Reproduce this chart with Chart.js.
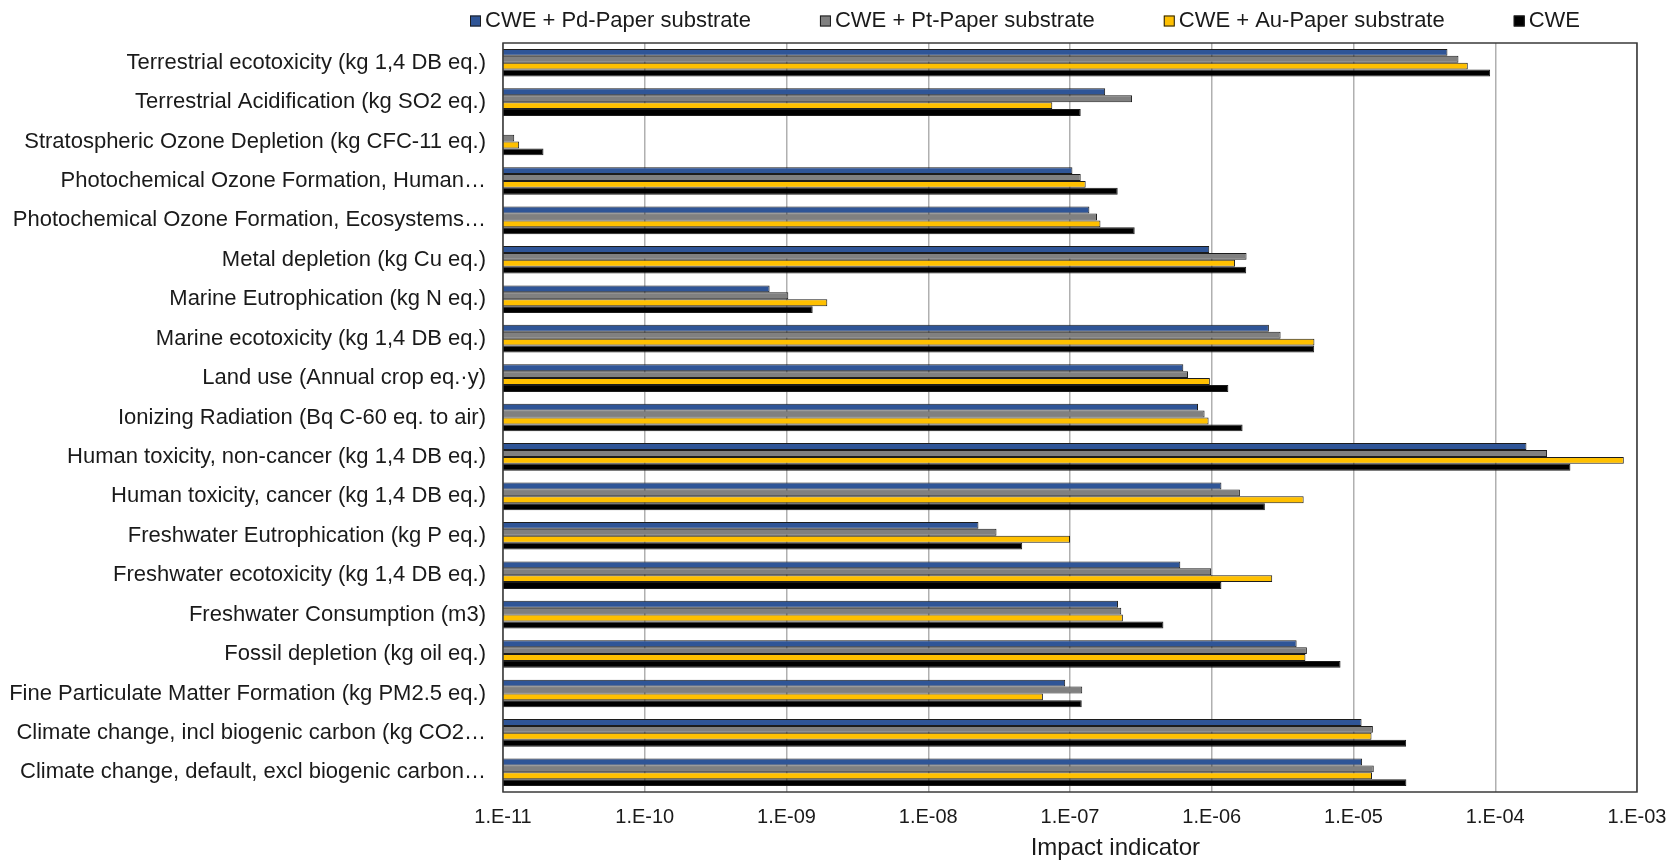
<!DOCTYPE html>
<html>
<head>
<meta charset="utf-8">
<title>Impact indicator</title>
<script src="https://cdn.jsdelivr.net/npm/chart.js@4/dist/chart.umd.min.js"></script>
<style>
  html, body { margin: 0; padding: 0; background: #fff; }
  #wrap { width: 1674px; height: 861px; }
</style>
</head>
<body>
<div id="wrap"><canvas id="myChart" width="1674" height="861"></canvas></div>
<script>
'use strict';

//categories, top to bottom
const categories = [
  'Terrestrial ecotoxicity (kg 1,4 DB eq.)',
  'Terrestrial Acidification (kg SO2 eq.)',
  'Stratospheric Ozone Depletion (kg CFC-11 eq.)',
  'Photochemical Ozone Formation, Human\u2026',
  'Photochemical Ozone Formation, Ecosystems\u2026',
  'Metal depletion (kg Cu eq.)',
  'Marine Eutrophication (kg N eq.)',
  'Marine ecotoxicity (kg 1,4 DB eq.)',
  'Land use (Annual crop eq.\u00b7y)',
  'Ionizing Radiation (Bq C-60 eq. to air)',
  'Human toxicity, non-cancer (kg 1,4 DB eq.)',
  'Human toxicity, cancer (kg 1,4 DB eq.)',
  'Freshwater Eutrophication (kg P eq.)',
  'Freshwater ecotoxicity (kg 1,4 DB eq.)',
  'Freshwater Consumption (m3)',
  'Fossil depletion (kg oil eq.)',
  'Fine Particulate Matter Formation (kg PM2.5 eq.)',
  'Climate change, incl biogenic carbon (kg CO2\u2026',
  'Climate change, default, excl biogenic carbon\u2026'
];

//series values
const pdPaper = [4.6e-5, 1.77e-7, null, 1.04e-7, 1.37e-7, 9.6e-7, 7.6e-10, 2.53e-6, 6.3e-7, 8.0e-7,
  1.66e-4, 1.17e-6, 2.26e-8, 6.0e-7, 2.18e-7, 3.97e-6, 9.25e-8, 1.14e-5, 1.15e-5];
const ptPaper = [5.5e-5, 2.74e-7, 1.2e-11, 1.19e-7, 1.55e-7, 1.76e-6, 1.03e-9, 3.06e-6, 6.8e-7, 8.9e-7,
  2.32e-4, 1.58e-6, 3.03e-8, 9.9e-7, 2.3e-7, 4.69e-6, 1.22e-7, 1.37e-5, 1.39e-5];
const auPaper = [6.4e-5, 7.5e-8, 1.3e-11, 1.29e-7, 1.64e-7, 1.46e-6, 1.94e-9, 5.3e-6, 9.7e-7, 9.5e-7,
  8.07e-4, 4.45e-6, 1.0e-7, 2.67e-6, 2.36e-7, 4.58e-6, 6.44e-8, 1.34e-5, 1.35e-5];
const cweOnly = [9.2e-5, 1.19e-7, 1.93e-11, 2.17e-7, 2.86e-7, 1.75e-6, 1.53e-9, 5.28e-6, 1.31e-6, 1.65e-6,
  3.39e-4, 2.37e-6, 4.6e-8, 1.17e-6, 4.56e-7, 8.1e-6, 1.21e-7, 2.35e-5, 2.36e-5];

const seriesNames = ['CWE + Pd-Paper substrate', 'CWE + Pt-Paper substrate', 'CWE + Au-Paper substrate', 'CWE'];

//x axis ticks
const xTickValues = [1e-11, 1e-10, 1e-9, 1e-8, 1e-7, 1e-6, 1e-5, 1e-4, 1e-3];
const xTickLabels = ['1.E-11', '1.E-10', '1.E-09', '1.E-08', '1.E-07', '1.E-06', '1.E-05', '1.E-04', '1.E-03'];
const xTitle = 'Impact indicator';

const fontFamily = '"Liberation Sans", Arial, Helvetica, sans-serif';
const textColor = '#1a1a1a';
const barEdge = '#1c1c1c';

function makeDataset(label, values, color) {
  return {
    label: label,
    data: values,
    backgroundColor: color,
    borderColor: barEdge,
    borderWidth: 1,
    categoryPercentage: 0.7,
    barPercentage: 1.0
  };
}

//frame round the plot area + the x title (sits right of centre in the original)
const plotFrame = {
  id: 'plotFrame',
  afterDatasetsDraw(chart) {
    const ctx = chart.ctx;
    const a = chart.chartArea;
    ctx.save();
    ctx.strokeStyle = '#3a3a3a';
    ctx.lineWidth = 1.5;
    ctx.strokeRect(a.left, a.top, a.right - a.left, a.bottom - a.top);
    ctx.font = '24px ' + fontFamily;
    ctx.fillStyle = textColor;
    ctx.textAlign = 'center';
    ctx.textBaseline = 'middle';
    ctx.fillText(xTitle, a.left + (a.right - a.left) * 0.54, 848);
    ctx.restore();
  }
};

//legend row above the plot, drawn like the excel one
const topLegend = {
  id: 'topLegend',
  afterDraw(chart) {
    const ctx = chart.ctx;
    let x = 470;
    const y = 21;
    ctx.save();
    ctx.font = '22px ' + fontFamily;
    ctx.textBaseline = 'middle';
    chart.data.datasets.forEach(function (ds) {
      ctx.fillStyle = ds.backgroundColor;
      ctx.fillRect(x, y - 5.5, 11, 11);
      ctx.strokeStyle = barEdge;
      ctx.lineWidth = 1;
      ctx.strokeRect(x + 0.5, y - 5, 10, 10);
      ctx.fillStyle = textColor;
      ctx.fillText(ds.label, x + 15, y);
      x += 15 + ctx.measureText(ds.label).width + 69;
    });
    ctx.restore();
  }
};

const data = {
  labels: categories,
  datasets: [
    makeDataset(seriesNames[0], pdPaper, '#2f5597'),
    makeDataset(seriesNames[1], ptPaper, '#808080'),
    makeDataset(seriesNames[2], auPaper, '#ffc000'),
    makeDataset(seriesNames[3], cweOnly, '#000000')
  ]
};

const config = {
  type: 'bar',
  data: data,
  plugins: [plotFrame, topLegend],
  options: {
    indexAxis: 'y',
    responsive: false,
    animation: false,
    layout: { padding: { top: 43, right: 37, bottom: 0, left: 0 } },
    plugins: {
      legend: { display: false },
      tooltip: { enabled: false }
    },
    scales: {
      x: {
        type: 'logarithmic',
        min: 1e-11,
        max: 1e-3,
        afterBuildTicks: function (axis) {
          axis.ticks = xTickValues.map(function (v) { return { value: v }; });
        },
        afterFit: function (axis) {
          axis.height = 69;
          axis.paddingRight = 0;
          axis.paddingLeft = 0;
        },
        ticks: {
          autoSkip: false,
          maxRotation: 0,
          padding: 13,
          color: textColor,
          font: { family: fontFamily, size: 20 },
          callback: function (value, index) { return xTickLabels[index]; }
        },
        grid: { color: '#b0b0b0', lineWidth: 1.5, drawTicks: false },
        border: { display: false }
      },
      y: {
        afterFit: function (axis) { axis.width = 503; },
        grid: { display: false, drawTicks: false },
        border: { display: false },
        ticks: {
          autoSkip: false,
          padding: 17,
          color: textColor,
          font: { family: fontFamily, size: 22 }
        }
      }
    }
  }
};

const myChart = new Chart(document.getElementById('myChart'), config);
</script>
</body>
</html>
